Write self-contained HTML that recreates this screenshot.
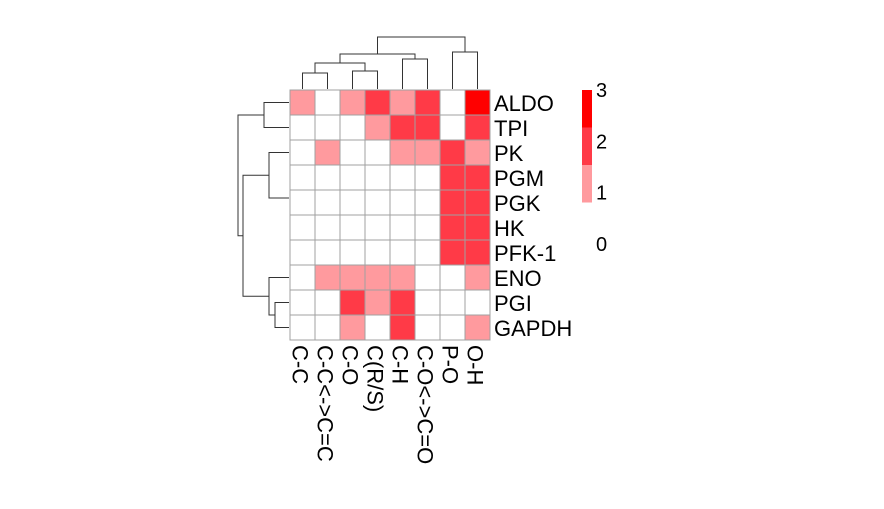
<!DOCTYPE html>
<html><head><meta charset="utf-8"><style>
html,body{margin:0;padding:0;background:#fff;}
svg{display:block;font-family:"Liberation Sans",sans-serif;}
</style></head><body>
<svg id="c" width="884" height="509"></svg>
<script>
const rows=["ALDO","TPI","PK","PGM","PGK","HK","PFK-1","ENO","PGI","GAPDH"];
const cols=["C-C","C-C<->C=C","C-O","C(R/S)","C-H","C-O<->C=O","P-O","O-H"];
const values=[
[1,0,1,2,1,2,0,3],
[0,0,0,1,2,2,0,2],
[0,1,0,0,1,1,2,1],
[0,0,0,0,0,0,2,2],
[0,0,0,0,0,0,2,2],
[0,0,0,0,0,0,2,2],
[0,0,0,0,0,0,2,2],
[0,1,1,1,1,0,0,1],
[0,0,2,1,2,0,0,0],
[0,0,1,0,2,0,0,1]];
const legendTicks=[3,2,1,0];
const colors=["#ffffff","#ff9a9e","#ff3a47","#ff0000"];
const NS="http://www.w3.org/2000/svg";
const svg=document.getElementById('c');
const x0=290,y0=90,cw=25,ch=25;
const xPos=j=>x0+j*cw, yPos=i=>y0+i*ch;
function mk(t,a,p){const e=document.createElementNS(NS,t);for(const k in a)e.setAttribute(k,a[k]);(p||svg).appendChild(e);return e;}
values.forEach((r,i)=>r.forEach((v,j)=>{
 const e=mk('rect',{x:xPos(j),y:yPos(i),width:cw,height:ch,fill:colors[v],stroke:'#a0a0a0','stroke-width':1});
 
 
}));
rows.forEach((r,i)=>{const t=mk('text',{x:494,y:yPos(i)+ch/2+8.5,'font-size':22,fill:'#000'});t.textContent=r;
 
 });
cols.forEach((c,j)=>{const cx=xPos(j)+cw/2-10;const t=mk('text',{x:0,y:0,'font-size':22,fill:'#000',transform:`translate(${cx},345) rotate(90)`});t.textContent=c;
 
 });
// dendrograms
const g=mk('g',{stroke:'#333','stroke-width':1,fill:'none'});


const L=(d)=>mk('path',{d},g);
const cx=j=>xPos(j)+cw/2;
L(`M${cx(0)},89V73H${cx(1)}V89`);
L(`M${cx(2)},89V71H${cx(3)}V89`);
const a1=(cx(0)+cx(1))/2,a2=(cx(2)+cx(3))/2;
L(`M${a1},73V63H${a2}V71`);
L(`M${cx(4)},89V59H${cx(5)}V89`);
const a3=(a1+a2)/2,a4=(cx(4)+cx(5))/2;
L(`M${a3},63V54H${a4}V59`);
L(`M${cx(6)},89V52H${cx(7)}V89`);
const a5=(a3+a4)/2,a6=(cx(6)+cx(7))/2;
L(`M${a5},54V37H${a6}V52`);
const ry=i=>yPos(i)+ch/2;
L(`M289,${ry(0)}H264V${ry(1)}H289`);
L(`M289,${ry(2)}H269V198H289`);
L(`M289,${ry(8)}H275V${ry(9)}H289`);
const pm=(ry(8)+ry(9))/2;
L(`M289,${ry(7)}H269V${pm}H275`);
const b1=(ry(2)+198)/2,b2=(ry(7)+pm)/2;
L(`M269,${b1}H243V${b2}H269`);
const b0=(ry(0)+ry(1))/2,b3=(b1+b2)/2;
L(`M264,${b0}H238V${b3}H243`);
// legend
const lg=mk('g',{});


[3,2,1].forEach((v,k)=>{const r=mk('rect',{x:582,y:90+k*37.5,width:10,height:37.5,fill:colors[v]},lg);
 
 });
legendTicks.forEach((v,k)=>{const t=mk('text',{x:596,y:97+k*51.3,'font-size':20,fill:'#000'},lg);t.textContent=v;
 
 });
</script>
</body></html>
